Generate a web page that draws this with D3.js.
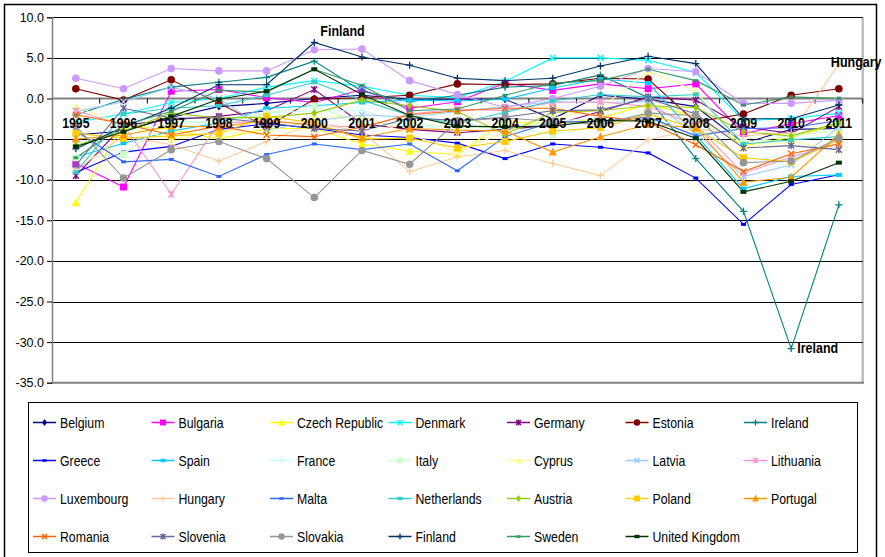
<!DOCTYPE html>
<html>
<head>
<meta charset="utf-8">
<script src="https://cdn.jsdelivr.net/npm/d3@7"></script>
<style>
  html, body { margin: 0; padding: 0; background: #fff; }
  svg { display: block; font-family: "Liberation Sans", Arial, sans-serif; }
</style>
</head>
<body>
<svg id="chart" width="885" height="557"></svg>
<script>
// General government balance, % of GDP
const years = ["1995","1996","1997","1998","1999","2000","2001","2002","2003","2004","2005","2006","2007","2008","2009","2010","2011"];
const yTicks = [10, 5, 0, -5, -10, -15, -20, -25, -30, -35];

const countries = ["Belgium","Bulgaria","Czech Republic","Denmark","Germany","Estonia","Ireland",
  "Greece","Spain","France","Italy","Cyprus","Latvia","Lithuania",
  "Luxembourg","Hungary","Malta","Netherlands","Austria","Poland","Portugal",
  "Romania","Slovenia","Slovakia","Finland","Sweden","United Kingdom"];

const belgium     = [-4.5,-4.0,-2.3,-1.0,-0.6, 0.0, 0.4,-0.1,-0.1,-0.1,-2.5, 0.4,-0.1,-1.0,-5.5,-3.8,-3.7];
const bulgaria    = [-8.0,-10.9, 0.9, 1.1, 0.1,-0.5, 1.1,-1.2,-0.4, 1.9, 1.0, 1.8, 1.2, 1.8,-4.3,-3.1,-2.1];
const czechRep    = [-12.8,-3.3,-3.8,-5.0,-3.7,-3.7,-5.6,-6.5,-6.9,-2.8,-3.2,-2.4,-0.7,-2.2,-5.8,-4.8,-3.1];
const denmark     = [-2.9,-1.9,-0.5, 0.0, 1.4, 2.2, 1.5, 0.4, 0.1, 2.1, 5.0, 5.0, 4.7, 3.2,-2.7,-2.5,-1.8];
const germany     = [-9.5,-3.3,-2.6,-2.2,-1.5, 1.1,-3.1,-3.8,-4.2,-3.8,-3.3,-1.6, 0.2,-0.2,-3.5,-4.3,-1.0];
const estonia     = [ 1.2,-0.2, 2.3,-0.6,-3.5,-0.1, 0.1, 0.4, 1.8, 1.7, 1.8, 2.5, 2.4,-2.9,-1.9, 0.4, 1.2];
const ireland     = [-2.0,-0.1, 1.4, 2.0, 2.6, 4.6, 0.9,-0.4, 0.4, 1.4, 1.6, 2.9, 0.1,-7.4,-13.9,-30.8,-13.1];
const greece      = [-9.1,-6.6,-5.9,-3.8,-3.1,-3.7,-4.5,-4.8,-5.5,-7.4,-5.6,-6.0,-6.7,-9.8,-15.5,-10.6,-9.4];
const spain       = [-7.2,-5.5,-4.0,-3.0,-1.2,-0.9,-0.5,-0.2,-0.3,-0.1, 1.3, 2.4, 1.9,-4.5,-11.1,-9.6,-9.4];
const france      = [-5.5,-4.0,-3.3,-2.6,-1.8,-1.5,-1.5,-3.1,-4.1,-3.6,-2.9,-2.3,-2.7,-3.3,-7.5,-7.1,-5.2];
const italy       = [-7.3,-6.9,-2.7,-3.1,-1.8,-0.9,-3.1,-3.1,-3.6,-3.5,-4.4,-3.4,-1.6,-2.7,-5.4,-4.6,-3.9];
const cyprus      = [-1.0,-3.3,-5.0,-4.1,-4.3,-2.3,-2.2,-4.4,-6.6,-4.1,-2.4,-1.2, 3.4, 0.9,-6.1,-5.3,-6.3];
const latvia      = [-1.6,-0.4, 1.4, 0.0,-3.9,-2.8,-2.0,-2.3,-1.6,-1.0,-0.4,-0.5,-0.4,-4.2,-9.6,-8.2,-3.5];
const lithuania   = [-1.5,-3.3,-11.8,-3.0,-2.8,-3.2,-3.6,-1.9,-1.3,-1.5,-0.5,-0.4,-1.0,-3.3,-9.2,-7.2,-5.5];
const luxembourg  = [ 2.5, 1.2, 3.7, 3.4, 3.4, 6.0, 6.1, 2.2, 0.5,-1.1, 0.0, 1.5, 3.7, 3.3,-0.6,-0.6,-0.2];
const hungary     = [-8.8,-4.6,-5.7,-7.7,-5.3,-3.0,-4.1,-9.0,-7.2,-6.4,-8.0,-9.5,-5.1,-3.7,-4.6,-4.2, 4.2];
const malta       = [-4.0,-7.8,-7.5,-9.6,-6.9,-5.6,-6.3,-5.6,-8.9,-4.7,-2.9,-2.8,-2.3,-4.6,-3.7,-3.6,-2.7];
const netherlands = [-9.1,-1.9,-1.2,-0.9, 0.4, 2.0,-0.2,-2.1,-3.1,-1.7,-0.3, 0.5, 0.2, 0.5,-5.6,-5.1,-4.7];
const austria     = [-5.8,-4.0,-1.8,-2.4,-2.3,-1.8,-0.2,-0.9,-1.6,-4.4,-1.7,-1.5,-0.9,-1.1,-4.1,-4.6,-3.0];
const poland      = [-4.3,-4.9,-4.6,-4.3,-2.2,-3.0,-5.0,-4.9,-6.1,-5.3,-4.0,-3.6,-1.9,-3.7,-7.3,-7.8,-5.1];
const portugal    = [-5.0,-4.5,-3.4,-3.5,-2.7,-3.3,-4.8,-3.7,-3.9,-4.0,-6.6,-4.7,-3.2,-3.6,-10.3,-9.7,-4.4];
const romania     = [-2.0,-3.1,-4.5,-3.4,-4.5,-4.7,-3.5,-2.0,-1.5,-1.2,-1.2,-2.2,-2.9,-5.7,-9.0,-6.8,-5.6];
const slovenia    = [-8.2,-1.2,-2.4,-2.4,-3.0,-3.7,-4.0,-2.4,-2.7,-2.3,-1.5,-1.4, 0.0,-1.9,-6.1,-5.8,-6.3];
const slovakia    = [-3.4,-9.8,-6.3,-5.3,-7.4,-12.2,-6.4,-8.1,-2.8,-2.4,-2.8,-3.2,-1.8,-2.1,-7.9,-7.7,-4.9];
const finland     = [-6.2,-3.5,-1.2, 1.7, 1.7, 6.9, 5.1, 4.1, 2.5, 2.2, 2.5, 4.0, 5.2, 4.3,-2.5,-2.5,-0.8];
const sweden      = [-7.3,-3.3,-1.6, 1.0, 0.8, 3.6, 1.6,-1.5,-1.3, 0.4, 1.9, 2.2, 3.6, 2.2,-0.8, 0.2, 0.0];
const unitedKingdom = [-5.9,-4.1,-2.2,-0.1, 0.9, 3.6, 0.5,-2.1,-3.4,-3.5,-3.4,-2.7,-2.8,-4.9,-11.5,-10.2,-7.9];

const seriesValues = [belgium, bulgaria, czechRep, denmark, germany, estonia, ireland,
  greece, spain, france, italy, cyprus, latvia, lithuania,
  luxembourg, hungary, malta, netherlands, austria, poland, portugal,
  romania, slovenia, slovakia, finland, sweden, unitedKingdom];

// series colours and marker shapes, in legend order
const palette = ["#000080","#FF00FF","#FFFF00","#00FFFF","#800080","#800000","#008080",
  "#0000FF","#00CCFF","#CCFFFF","#CCFFCC","#FFFF99","#99CCFF","#FF99CC",
  "#CC99FF","#FFCC99","#3366FF","#33CCCC","#99CC00","#FFCC00","#FF9900",
  "#FF6600","#666699","#969696","#003366","#339966","#003300"];
const markerCycle = ["diamond","square","triangle","x","star","circle","plus","dash","bar"];

// callouts attached to a series at a given year
const callouts = [
  { name: "Finland", year: "2000", dx: 6, dy: -6, anchor: "start" },
  { name: "Hungary", year: "2011", dx: -8, dy: 3, anchor: "start" },
  { name: "Ireland", year: "2010", dx: 6, dy: 4.5, anchor: "start" }
];

const svg = d3.select("#chart");
const W = 885, H = 557;
const plot = { left: 52, right: 862.7, top: 17.3, bottom: 382.7 };

svg.append("rect").attr("width", W).attr("height", H).attr("fill", "#fff");
// chart frame
svg.append("rect").attr("x", 4.5).attr("y", 4.5).attr("width", 872).attr("height", 620)
  .attr("fill", "none").attr("stroke", "#000").attr("stroke-width", 1.5);

const x = d3.scaleBand().domain(years).range([plot.left, plot.right]).padding(0);
const xc = d => x(d) + x.bandwidth() / 2;
const y = d3.scaleLinear().domain([-35, 10]).range([plot.bottom, plot.top]);

// plot area border (right and bottom)
svg.append("line").attr("x1", plot.right).attr("x2", plot.right).attr("y1", plot.top).attr("y2", plot.bottom + 1)
  .attr("stroke", "#bdbdbd").attr("stroke-width", 2.5);
svg.append("line").attr("x1", plot.left).attr("x2", plot.right + 1).attr("y1", plot.bottom).attr("y2", plot.bottom)
  .attr("stroke", "#808080").attr("stroke-width", 2);

// horizontal gridlines
svg.append("g").selectAll("line").data(yTicks.filter(v => v !== 0 && v !== -35)).join("line")
  .attr("x1", plot.left).attr("x2", plot.right)
  .attr("y1", d => Math.round(y(d)) + 0.5).attr("y2", d => Math.round(y(d)) + 0.5)
  .attr("stroke", "#000").attr("stroke-width", 1);

// value axis
const yAxis = d3.axisLeft(y).tickValues(yTicks).tickSize(5).tickPadding(3)
  .tickFormat(v => v.toFixed(1));
const gy = svg.append("g").attr("transform", `translate(${plot.left},0)`).call(yAxis);
gy.select(".domain").attr("stroke", "#808080").attr("stroke-width", 1.5);
gy.selectAll(".tick line").attr("stroke", "#000");
gy.selectAll(".tick text").attr("font-size", 12.5).attr("fill", "#000")
  .attr("font-family", "'Liberation Sans', Arial, sans-serif");

// category axis crossing at zero
const y0 = y(0);
svg.append("line").attr("x1", plot.left).attr("x2", plot.right).attr("y1", y0).attr("y2", y0)
  .attr("stroke", "#808080").attr("stroke-width", 2);
svg.append("g").selectAll("line").data(years.slice(1).concat(["end"])).join("line")
  .attr("x1", (d, i) => plot.left + (i + 1) * x.bandwidth())
  .attr("x2", (d, i) => plot.left + (i + 1) * x.bandwidth())
  .attr("y1", y0).attr("y2", y0 + 5).attr("stroke", "#000").attr("stroke-width", 1);

// series lines
const line = d3.line().x((d, i) => xc(years[i])).y(d => y(d));
const gSeries = svg.append("g");
seriesValues.forEach((vals, s) => {
  gSeries.append("path").datum(vals).attr("d", line)
    .attr("fill", "none").attr("stroke", palette[s]).attr("stroke-width", 1.1);
});

// marker drawing
function drawMarker(g, type, color, cx, cy, scale) {
  const k = scale || 1;
  switch (type) {
    case "diamond":
      g.append("path").attr("d", `M${cx},${cy-4*k}L${cx+3*k},${cy}L${cx},${cy+4*k}L${cx-3*k},${cy}Z`).attr("fill", color);
      break;
    case "square":
      g.append("rect").attr("x", cx-3.5*k).attr("y", cy-3.5*k).attr("width", 7*k).attr("height", 7*k).attr("fill", color);
      break;
    case "triangle":
      g.append("path").attr("d", `M${cx},${cy-4.5*k}L${cx+4*k},${cy+3.5*k}L${cx-4*k},${cy+3.5*k}Z`).attr("fill", color);
      break;
    case "x":
      g.append("path").attr("d", `M${cx-3*k},${cy-3*k}L${cx+3*k},${cy+3*k}M${cx+3*k},${cy-3*k}L${cx-3*k},${cy+3*k}`)
        .attr("stroke", color).attr("stroke-width", 1.4);
      break;
    case "star":
      g.append("path").attr("d", `M${cx-3*k},${cy-3*k}L${cx+3*k},${cy+3*k}M${cx+3*k},${cy-3*k}L${cx-3*k},${cy+3*k}M${cx},${cy-3.5*k}L${cx},${cy+3.5*k}`)
        .attr("stroke", color).attr("stroke-width", 1.4);
      break;
    case "circle":
      g.append("circle").attr("cx", cx).attr("cy", cy).attr("r", 3.8*k).attr("fill", color);
      break;
    case "plus":
      g.append("path").attr("d", `M${cx-3.5*k},${cy}L${cx+3.5*k},${cy}M${cx},${cy-3.5*k}L${cx},${cy+3.5*k}`)
        .attr("stroke", color).attr("stroke-width", 1.3);
      break;
    case "dash":
      g.append("rect").attr("x", cx-2.5*k).attr("y", cy-1.5*k).attr("width", 5*k).attr("height", 3*k).attr("fill", color);
      break;
    case "bar":
      g.append("rect").attr("x", cx-3*k).attr("y", cy-2*k).attr("width", 6*k).attr("height", 4*k).attr("fill", color);
      break;
  }
}

const gMarkers = svg.append("g");
seriesValues.forEach((vals, s) => {
  const type = markerCycle[s % markerCycle.length];
  vals.forEach((v, i) => drawMarker(gMarkers, type, palette[s], xc(years[i]), y(v)));
});

// year labels beside the zero line
svg.append("g").selectAll("text").data(years).join("text")
  .attr("transform", d => `translate(${xc(d)},128) scale(1,1.22)`)
  .attr("text-anchor", "middle").attr("font-size", 12.3).attr("font-weight", "bold")
  .attr("fill", "#000").text(d => d);

// callouts
callouts.forEach(c => {
  const s = countries.indexOf(c.name);
  const vi = years.indexOf(c.year);
  const px = xc(c.year) + c.dx, py = y(seriesValues[s][vi]) + c.dy;
  svg.append("text")
    .attr("transform", `translate(${px},${py}) scale(1,1.15)`)
    .attr("text-anchor", c.anchor).attr("font-size", 12.5).attr("font-weight", "bold")
    .attr("fill", "#000").text(c.name);
});

// legend
const legend = { x: 28.5, y: 402.5, w: 829, h: 150, colW: 118.5, rowH: 38, cols: 7 };
svg.append("rect").attr("x", legend.x).attr("y", legend.y).attr("width", legend.w).attr("height", legend.h)
  .attr("fill", "#fff").attr("stroke", "#000").attr("stroke-width", 1);
const gLegend = svg.append("g");
countries.forEach((name, s) => {
  const col = s % legend.cols, row = Math.floor(s / legend.cols);
  const lx = 33 + col * legend.colW;
  const ly = 422.5 + row * legend.rowH;
  gLegend.append("line").attr("x1", lx).attr("x2", lx + 23).attr("y1", ly).attr("y2", ly)
    .attr("stroke", palette[s]).attr("stroke-width", 1.5);
  drawMarker(gLegend, markerCycle[s % markerCycle.length], palette[s], lx + 11.5, ly, 0.85);
  gLegend.append("text").attr("transform", `translate(${lx + 27},${ly + 5}) scale(1,1.18)`)
    .attr("font-size", 12.3).attr("fill", "#000").text(name);
});
</script>
</body>
</html>
